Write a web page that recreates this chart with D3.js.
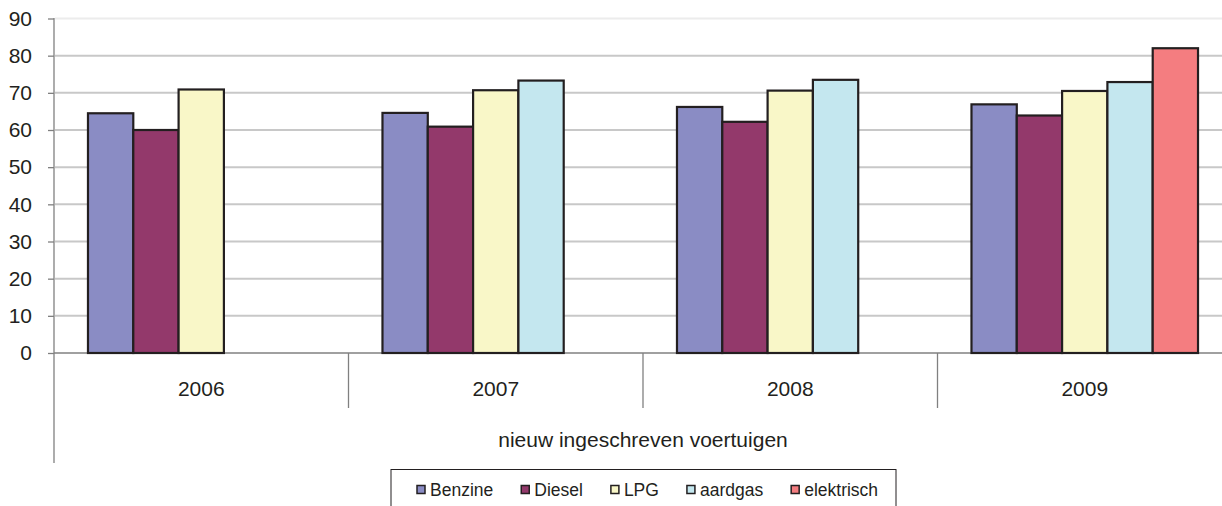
<!DOCTYPE html>
<html>
<head>
<meta charset="utf-8">
<script src="https://cdn.jsdelivr.net/npm/d3@7"></script>
<style>
  body { margin: 0; background: #fff; }
  svg { display: block; font-family: "Liberation Sans", Arial, sans-serif; }
</style>
</head>
<body>
<svg id="chart"></svg>
<script>
// data
const years = ['2006', '2007', '2008', '2009'];
const series = ['Benzine', 'Diesel', 'LPG', 'aardgas', 'elektrisch'];
const benzine = [64.5, 64.6, 66.2, 66.9];
const diesel = [60.0, 60.9, 62.2, 63.9];
const lpg = [70.9, 70.7, 70.6, 70.5];
const aardgas = [null, 73.3, 73.5, 72.9];
const elektrisch = [null, null, null, 82.0];
const yTicks = [0, 10, 20, 30, 40, 50, 60, 70, 80, 90];
const colors = ['#8a8cc4', '#93396b', '#f9f7c8', '#c4e7ef', '#f47d80'];
const xTitle = 'nieuw ingeschreven voertuigen';

const width = 1222, height = 506;
const textColor = '#231f20';

const svg = d3.select('#chart').attr('width', width).attr('height', height);

const values = [benzine, diesel, lpg, aardgas, elektrisch];
const rows = [];
years.forEach((yr, i) => {
    series.forEach((s, j) => {
        if (values[j][i] != null) rows.push({year: yr, series: s, value: values[j][i], k: j});
    });
});

const x0 = d3.scaleBand().domain(years).range([54, 1232]).padding(0);
const x1 = d3.scaleBand().domain(series).range([0, x0.bandwidth()]).paddingInner(0).paddingOuter(0.75);
const y = d3.scaleLinear().domain([0, 90]).range([353, 18.5]);

// grid lines
svg.append('g')
    .selectAll('line')
    .data(yTicks.filter(d => d > 0))
    .enter().append('line')
    .attr('x1', 55).attr('x2', width)
    .attr('y1', d => y(d)).attr('y2', d => y(d))
    .style('stroke', d => d === 90 ? '#ececec' : '#c8c8c8')
    .style('stroke-width', 2);

// y axis
const yAxis = d3.axisLeft(y).tickValues(yTicks).tickSize(6).tickPadding(16);
const gy = svg.append('g').attr('transform', 'translate(54,0)').call(yAxis);
gy.select('.domain').remove();
gy.selectAll('.tick line').style('stroke', '#808080').style('stroke-width', 1.3);
gy.selectAll('.tick text')
    .style('font-size', '21px')
    .style('font-family', '"Liberation Sans", Arial, sans-serif')
    .style('fill', textColor);

svg.append('line')
    .attr('x1', 54).attr('x2', 54).attr('y1', 18).attr('y2', 463)
    .style('stroke', '#808080').style('stroke-width', 1.3);

// zero line
svg.append('line')
    .attr('x1', 54).attr('x2', width).attr('y1', y(0)).attr('y2', y(0))
    .style('stroke', '#808080').style('stroke-width', 1.3);

// category dividers
svg.append('g')
    .selectAll('line')
    .data(years.slice(1))
    .enter().append('line')
    .attr('x1', d => x0(d)).attr('x2', d => x0(d))
    .attr('y1', y(0)).attr('y2', 408)
    .style('stroke', '#808080').style('stroke-width', 1.3);

// bars
svg.append('g')
    .selectAll('rect')
    .data(rows)
    .enter().append('rect')
    .attr('x', d => x0(d.year) + x1(d.series))
    .attr('y', d => y(d.value))
    .attr('width', x1.bandwidth())
    .attr('height', d => y(0) - y(d.value))
    .style('fill', d => colors[d.k])
    .style('stroke', textColor)
    .style('stroke-width', 2.2);

// category labels
svg.append('g')
    .selectAll('text')
    .data(years)
    .enter().append('text')
    .attr('x', d => x0(d) + x0.bandwidth() / 2)
    .attr('y', 389)
    .attr('dy', '0.35em')
    .attr('text-anchor', 'middle')
    .style('font-size', '21px')
    .style('fill', textColor)
    .text(d => d);

// axis title
svg.append('text')
    .attr('x', 643)
    .attr('y', 440)
    .attr('dy', '0.35em')
    .attr('text-anchor', 'middle')
    .style('font-size', '21px')
    .style('fill', textColor)
    .text(xTitle);

// legend
const legend = svg.append('g');
legend.append('rect')
    .attr('x', 391).attr('y', 469.5)
    .attr('width', 505).attr('height', 60)
    .style('fill', 'none')
    .style('stroke', textColor)
    .style('stroke-width', 1);

let lx = 417;
series.forEach((s, i) => {
    legend.append('rect')
        .attr('x', lx).attr('y', 485.5)
        .attr('width', 8).attr('height', 8)
        .style('fill', colors[i])
        .style('stroke', textColor)
        .style('stroke-width', 1.5);
    const t = legend.append('text')
        .attr('x', lx + 13)
        .attr('y', 490)
        .attr('dy', '0.35em')
        .style('font-size', '17.5px')
        .style('fill', textColor)
        .text(s);
    lx += 13 + t.node().getComputedTextLength() + 28;
});
</script>
</body>
</html>
